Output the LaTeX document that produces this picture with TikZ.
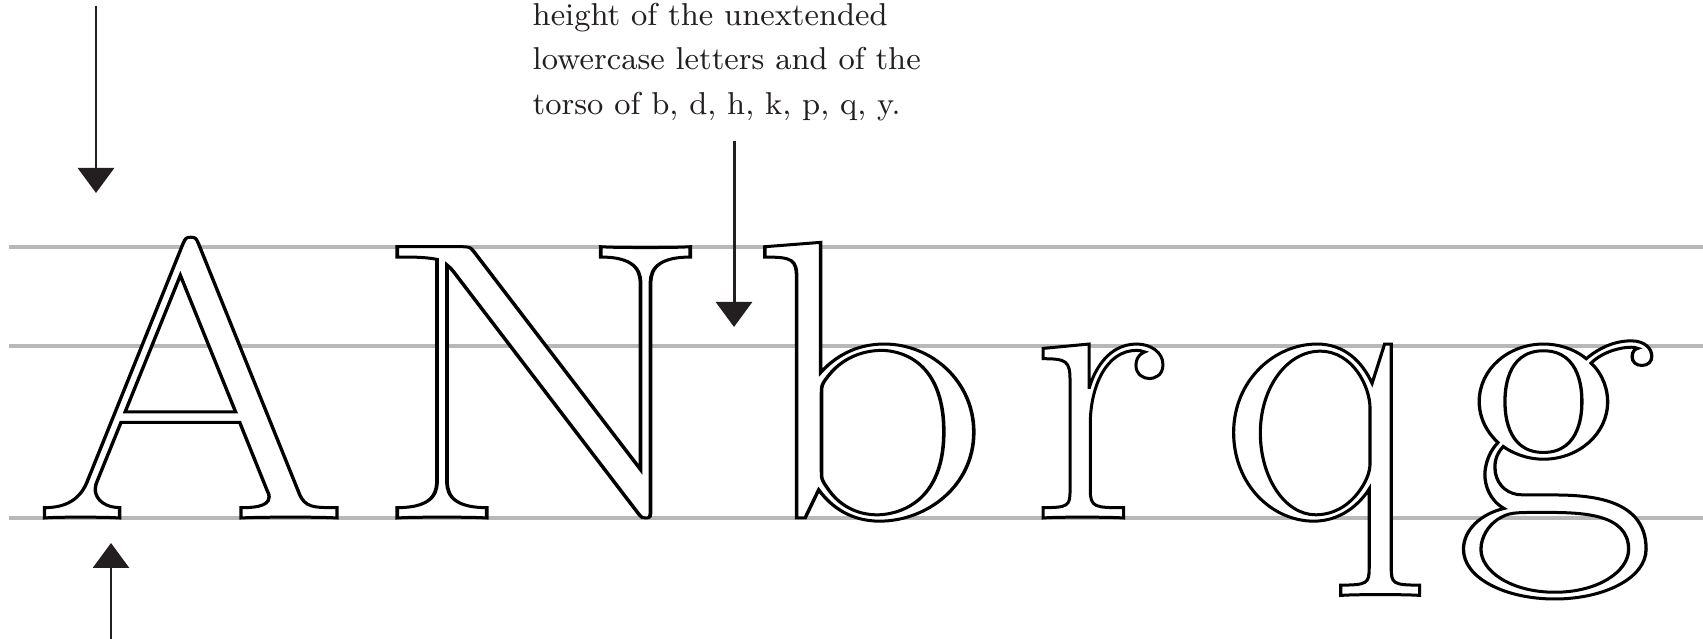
\documentclass[tikz,border=0pt]{standalone}
\usetikzlibrary{arrows.meta}
\definecolor{guide}{gray}{0.72}
\definecolor{ink}{HTML}{231F20}
\tikzset{guideline/.style={guide, line width=0.9pt},
  pointer/.style={ink, line width=0.85pt, -{Triangle[width=3.6mm,length=2.5mm]}},
  glyph/.style={anchor=base, inner sep=0pt, font=\fontsize{113}{113}\selectfont}}
% white fill, black stroke for the big letters (optional horizontal stretch)
\newcommand{\hollow}[2][1]{\scalebox{#1}[1]{\color{white}\special{pdf:literal direct 0 G 0.85 w 2 Tr}#2\special{pdf:literal direct 0 Tr}}}

\begin{document}
\begin{tikzpicture}
  \useasboundingbox (0,0) rectangle (17.03,6.39);
  % cap line, x-height, baseline
  \draw[guideline] (0.09,3.92) -- (17.03,3.92);
  \draw[guideline] (0.09,2.93) -- (17.03,2.93);
  \draw[guideline] (0.09,1.21) -- (17.03,1.21);
  \node[glyph] (A) at (1.91,1.21) {\hollow[1.14]{A}};
  \node[glyph] (N) at (5.44,1.21) {\hollow[1.25]{N}};
  \node[glyph] (b) at (8.70,1.21) {\hollow[1.18]{b}};
  \node[glyph] (r) at (11.01,1.21) {\hollow{r}};
  \node[glyph] (q) at (13.21,1.21) {\hollow[1.05]{q}};
  \node[glyph] (g) at (15.55,1.21) {\hollow[1.1]{g}};
  \node[anchor=base west, inner sep=0pt, align=left, text=ink,
    font=\fontsize{9}{12.8}\selectfont] (note) at (5.32,5.24)
    {height of the unextended\\lowercase letters and of the\\torso of b, d, h, k, p, q, y.};
  % arrows
  \coordinate (capStart) at (0.96,6.33);
  \coordinate (capTip) at (0.96,4.46);
  \coordinate (baseStart) at (1.11,0);
  \coordinate (baseTip) at (1.11,0.96);
  \coordinate (xStart) at (7.34,4.98);
  \coordinate (xTip) at (7.34,3.12);
  \draw[pointer] (capStart) -- (capTip);
  \draw[pointer] (baseStart) -- (baseTip);
  \draw[pointer] (xStart) -- (xTip);
\end{tikzpicture}
\end{document}
